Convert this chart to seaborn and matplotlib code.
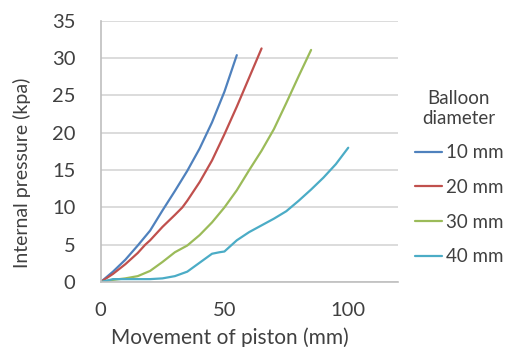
import pandas as pd
import matplotlib
matplotlib.use("Agg")
import matplotlib.pyplot as plt
import seaborn as sns

# values
x_10 = [0, 5, 10, 15, 20, 25, 30, 35, 40, 45, 50, 55]
y_10 = [0, 1.4, 3.0, 4.9, 6.9, 9.6, 12.2, 14.9, 17.9, 21.4, 25.5, 30.4]

x_20 = [0, 5, 10, 15, 18, 20, 25, 30, 33, 35, 40, 45, 50, 55, 60, 65]
y_20 = [0, 1.1, 2.4, 3.9, 5.0, 5.6, 7.4, 9.0, 10.0, 10.9, 13.4, 16.3, 19.8, 23.5, 27.4, 31.3]

x_30 = [0, 5, 10, 15, 20, 25, 30, 35, 40, 45, 50, 55, 60, 65, 70, 75, 80, 85]
y_30 = [0, 0.3, 0.5, 0.8, 1.5, 2.7, 4.0, 4.9, 6.3, 8.0, 10.0, 12.3, 15.0, 17.6, 20.5, 24.0, 27.6, 31.1]

x_40 = [0, 5, 10, 15, 20, 25, 30, 35, 40, 45, 48, 50, 55, 60, 65, 70, 75, 80, 85, 90, 95, 100]
y_40 = [0, 0.4, 0.4, 0.4, 0.4, 0.5, 0.8, 1.4, 2.6, 3.8, 4.0, 4.1, 5.6, 6.7, 7.6, 8.5, 9.5, 10.9, 12.4, 14.0, 15.8, 18.0]

labels = ["10 mm", "20 mm", "30 mm", "40 mm"]
colors = ["#4F81BD", "#C0504D", "#9BBB59", "#4BACC6"]

frames = []
for lab, xs, ys in zip(labels, [x_10, x_20, x_30, x_40], [y_10, y_20, y_30, y_40]):
    frames.append(pd.DataFrame({"movement": xs, "pressure": ys, "diameter": lab}))
df = pd.concat(frames, ignore_index=True)

sns.set_style("white")
plt.rcParams["font.family"] = ["Lato", "DejaVu Sans"]

fig = plt.figure(figsize=(5.08, 3.47), dpi=100)
ax = fig.add_axes([0.198, 0.187, 0.585, 0.753])

sns.lineplot(data=df, x="movement", y="pressure", hue="diameter",
             palette=colors, linewidth=1.6, sort=False, ax=ax)

ax.set_xlim(0, 120)
ax.set_ylim(0, 35)
ax.set_xticks([0, 50, 100])
ax.set_yticks(range(0, 36, 5))
ax.grid(axis="y", color="#D9D9D9", linewidth=1.3)
ax.set_axisbelow(True)
for s in ["top", "right"]:
    ax.spines[s].set_visible(False)
for s in ["left", "bottom"]:
    ax.spines[s].set_color("#BFBFBF")
    ax.spines[s].set_linewidth(1.2)
ax.tick_params(axis="x", direction="in", length=5, color="#BFBFBF", width=1.2,
               labelsize=14.5, labelcolor="#404040", pad=14)
ax.tick_params(axis="y", length=0, labelsize=14.5, labelcolor="#404040", pad=18)

# axis titles sit a little off-centre in the original
ax.set_xlabel("Movement of piston (mm)", fontsize=15, color="#404040")
ax.xaxis.set_label_coords(0.435, -0.211)
ax.set_ylabel("Internal pressure (kpa)", fontsize=14, color="#404040")
ax.yaxis.set_label_coords(-0.264, 0.42)
ax.xaxis.label.set_va("center")
ax.yaxis.label.set_va("center")

leg = ax.legend(title="Balloon\ndiameter", loc="upper left", bbox_to_anchor=(1.0, 0.80),
                frameon=False, fontsize=13.5, title_fontsize=13.5, handlelength=1.45,
                handletextpad=0.2, labelspacing=0.94)
for t in leg.get_texts():
    t.set_color("#404040")
leg.get_title().set_color("#404040")
leg.get_title().set_multialignment("center")

plt.savefig("out.png", dpi=100)
